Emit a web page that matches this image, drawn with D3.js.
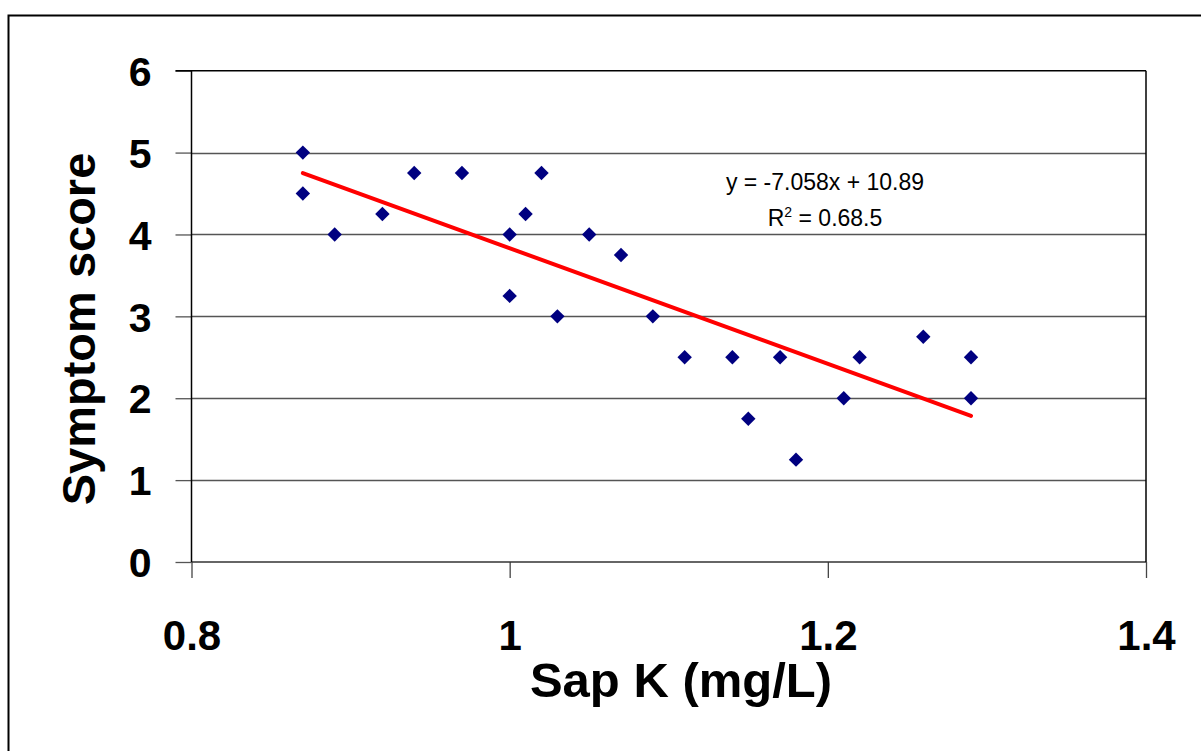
<!DOCTYPE html>
<html>
<head>
<meta charset="utf-8">
<script src="https://cdn.jsdelivr.net/npm/d3@7"></script>
<style>
  html, body { margin: 0; padding: 0; background: #fff; }
  svg { display: block; }
  text { font-family: "Liberation Sans", Arial, sans-serif; }
</style>
</head>
<body>
<svg id="chart" width="1201" height="751"></svg>
<script>
// ---- data ----
const sapK = [0.87, 0.87, 0.89, 0.92, 0.94, 0.97, 1.00, 1.00, 1.01, 1.02, 1.03, 1.05,
              1.07, 1.09, 1.11, 1.14, 1.15, 1.17, 1.18, 1.21, 1.22, 1.26, 1.29, 1.29];
const symptom = [5.00, 4.50, 4.00, 4.25, 4.75, 4.75, 4.00, 3.25, 4.25, 4.75, 3.00, 4.00,
                 3.75, 3.00, 2.50, 2.50, 1.75, 2.50, 1.25, 2.00, 2.50, 2.75, 2.50, 2.00];
const xTicks = [0.8, 1.0, 1.2, 1.4];
const xTickLabels = ["0.8", "1", "1.2", "1.4"];
const yTicks = [0, 1, 2, 3, 4, 5, 6];
const trendSlope = -7.058;
const trendIntercept = 10.89;
const eqLine1 = "y = -7.058x + 10.89";
const eqR2 = "0.68.5";
const xTitle = "Sap K (mg/L)";
const yTitle = "Symptom score";

// ---- layout ----
const svg = d3.select("#chart");
const L = 191.5, R = 1146, T = 70.7, B = 562;

const x = d3.scaleLinear().domain([0.8, 1.4]).range([L, R]);
const y = d3.scaleLinear().domain([0, 6]).range([B, T]);

// outer frame
svg.append("rect")
  .attr("x", 8.5).attr("y", 15.5).attr("width", 1200).attr("height", 750)
  .attr("fill", "#fff").attr("stroke", "#000").attr("stroke-width", 2);

// gridlines (horizontal)
svg.append("g")
  .selectAll("line")
  .data(yTicks.filter(d => d > 0 && d < 6))
  .join("line")
  .attr("x1", L).attr("x2", R)
  .attr("y1", d => Math.round(y(d)) + 0.5).attr("y2", d => Math.round(y(d)) + 0.5)
  .attr("stroke", "#555").attr("stroke-width", 1.3);

// y axis
const yAxis = d3.axisLeft(y).tickValues(yTicks).tickSize(16).tickPadding(24)
  .tickFormat(d3.format("d"));
const gy = svg.append("g").attr("transform", `translate(${L},0)`).call(yAxis);
gy.select(".domain").remove();
gy.selectAll(".tick line").attr("stroke", "#555").attr("stroke-width", 1.3);
gy.selectAll(".tick text")
  .attr("fill", "#000").attr("font-size", 41).attr("font-weight", "bold")
  .attr("font-family", "'Liberation Sans', Arial, sans-serif")
  .attr("dy", "0.36em");

// x axis
const xAxis = d3.axisBottom(x).tickValues(xTicks).tickSize(16).tickPadding(42)
  .tickFormat((d, i) => xTickLabels[i]);
const gx = svg.append("g").attr("transform", `translate(0,${B})`).call(xAxis);
gx.select(".domain").remove();
gx.selectAll(".tick line").attr("stroke", "#444").attr("stroke-width", 1.3);
gx.selectAll(".tick text")
  .attr("fill", "#000").attr("font-size", 42).attr("font-weight", "bold")
  .attr("font-family", "'Liberation Sans', Arial, sans-serif")
  .attr("dy", "0.71em");

// plot frame
svg.append("line").attr("x1", L - 16).attr("x2", R).attr("y1", T).attr("y2", T)
  .attr("stroke", "#000").attr("stroke-width", 1.5);
svg.append("line").attr("x1", L).attr("x2", R).attr("y1", B).attr("y2", B)
  .attr("stroke", "#333").attr("stroke-width", 1.5);
svg.append("line").attr("x1", L).attr("x2", L).attr("y1", T).attr("y2", B)
  .attr("stroke", "#000").attr("stroke-width", 1.5);
svg.append("line").attr("x1", R).attr("x2", R).attr("y1", T).attr("y2", B)
  .attr("stroke", "#000").attr("stroke-width", 1.5);

// trendline
const xMin = d3.min(sapK), xMax = d3.max(sapK);
svg.append("line")
  .attr("x1", x(xMin)).attr("y1", y(trendSlope * xMin + trendIntercept))
  .attr("x2", x(xMax)).attr("y2", y(trendSlope * xMax + trendIntercept))
  .attr("stroke", "#ff0000").attr("stroke-width", 4).attr("stroke-linecap", "round");

// points (diamonds)
const h = 7.2;
const diamondPath = `M0,${-h}L${h},0L0,${h}L${-h},0Z`;
svg.append("g")
  .selectAll("path")
  .data(sapK.map((v, i) => [v, symptom[i]]))
  .join("path")
  .attr("d", diamondPath)
  .attr("transform", d => `translate(${x(d[0])},${y(d[1])})`)
  .attr("fill", "#000080");

// equation
const eq = svg.append("g").attr("font-size", 23).attr("fill", "#000").attr("text-anchor", "middle");
eq.append("text").attr("x", 825).attr("y", 190).text(eqLine1);
const r2 = eq.append("text").attr("x", 825).attr("y", 226);
r2.append("tspan").text("R");
r2.append("tspan").attr("font-size", 14).attr("dy", -9).text("2");
r2.append("tspan").attr("dy", 9).text(" = " + eqR2);

// axis titles
svg.append("text")
  .attr("x", 681).attr("y", 697)
  .attr("text-anchor", "middle").attr("font-size", 49).attr("font-weight", "bold")
  .text(xTitle);
svg.append("text")
  .attr("transform", "translate(95,329) rotate(-90)")
  .attr("text-anchor", "middle").attr("font-size", 47).attr("font-weight", "bold")
  .text(yTitle);
</script>
</body>
</html>
